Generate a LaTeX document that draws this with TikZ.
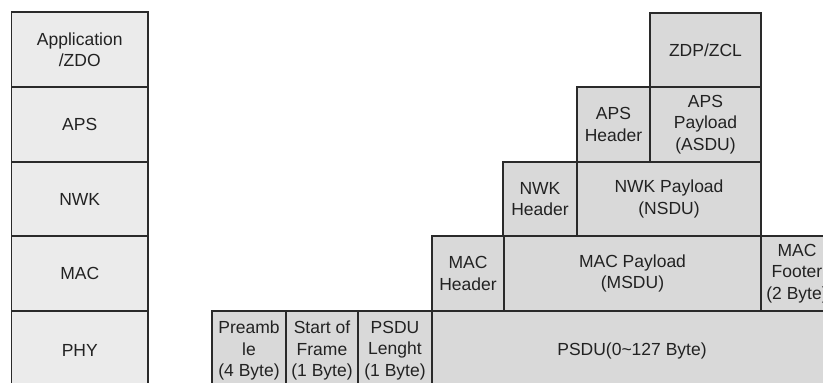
\documentclass[tikz,border=0pt]{standalone}
\usepackage{fontspec}
\setmainfont{Liberation Sans}
\definecolor{lightbox}{HTML}{EBEBEB}
\definecolor{darkbox}{HTML}{D9D9D9}
\definecolor{edge}{HTML}{2A2A2A}
\definecolor{txt}{HTML}{222222}
\newcommand{\blk}[7]{%
  \pgfmathsetmacro{\bw}{#4-#2}%
  \pgfmathsetmacro{\bh}{#5-#3}%
  \pgfmathsetmacro{\cx}{(#2+#4)/2}%
  \pgfmathsetmacro{\cy}{(#3+#5)/2}%
  \node[#6, minimum width=\bw pt, minimum height=\bh pt] (#1) at (\cx,\cy) {#7};}
\begin{document}
\begin{tikzpicture}[x=1pt,y=-1pt,
  cell/.style={draw=edge, line width=1.3pt, inner sep=0pt, outer sep=0pt,
    align=center, text=txt, font=\fontsize{17.5}{21.5}\selectfont},
  layer/.style={cell, fill=lightbox},
  field/.style={cell, fill=darkbox}]
\useasboundingbox (0,0) rectangle (823,383);
\clip (0,0) rectangle (823,383);
\fill[white] (0,0) rectangle (823,383);
% left protocol stack
\blk{app}{11.5}{12}{148}{87}{layer}{Application\\/ZDO}
\blk{aps}{11.5}{87}{148}{162}{layer}{APS}
\blk{nwk}{11.5}{162}{148}{236}{layer}{NWK}
\blk{mac}{11.5}{236}{148}{311}{layer}{MAC}
\blk{phy}{11.5}{311}{148}{390}{layer}{PHY}
% frame fields
\blk{zdp}{650}{13}{761}{87}{field}{ZDP/ZCL}
\blk{apsh}{577}{87}{650}{162}{field}{APS\\Header}
\blk{apsp}{650}{87}{761}{162}{field}{APS\\Payload\\(ASDU)}
\blk{nwkh}{503}{162}{577}{236}{field}{NWK\\Header}
\blk{nwkp}{577}{162}{761}{236}{field}{NWK Payload\\(NSDU)}
\blk{mach}{432}{236}{504}{311}{field}{MAC\\Header}
\blk{macp}{504}{236}{761}{311}{field}{MAC Payload\\(MSDU)}
\blk{macf}{761}{236}{833}{311}{field}{MAC\\Footer\\(2 Byte)}
\blk{pre}{212}{311}{286}{390}{field}{Preamb\\le\\(4 Byte)}
\blk{sof}{286}{311}{358}{390}{field}{Start of\\Frame\\(1 Byte)}
\blk{len}{358}{311}{432}{390}{field}{PSDU\\Lenght\\(1 Byte)}
\blk{psdu}{432}{311}{832}{390}{field}{PSDU(0\textasciitilde127 Byte)}
\end{tikzpicture}
\end{document}
